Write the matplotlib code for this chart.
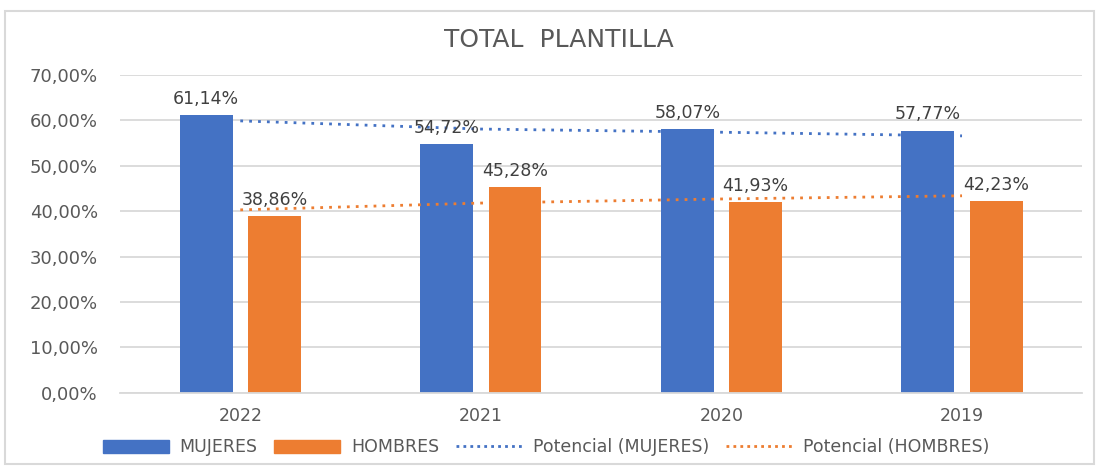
import numpy as np
import matplotlib.pyplot as plt
from matplotlib.patches import Rectangle, Patch
from matplotlib.lines import Line2D
from matplotlib.ticker import FuncFormatter, MultipleLocator

# -----------------------
# Datos
# -----------------------
anios = ['2022', '2021', '2020', '2019']
mujeres = [61.14, 54.72, 58.07, 57.77]
hombres = [38.86, 45.28, 41.93, 42.23]
# líneas de tendencia (potencial)
tend_mujeres = [59.9, 58.1, 57.4, 56.6]
tend_hombres = [40.3, 41.8, 42.7, 43.4]

azul = '#4472C4'
naranja = '#ED7D31'
gris = '#595959'

fig = plt.figure(figsize=(10.96, 4.66), dpi=100)
ax = fig.add_axes([0.1095, 0.157, 0.878, 0.682])

x = np.arange(len(anios))
ancho = 0.22
off = 0.142

ax.bar(x - off, mujeres, ancho, color=azul, zorder=2)
ax.bar(x + off, hombres, ancho, color=naranja, zorder=2)
ax.plot(x, tend_mujeres, color=azul, linestyle=(0, (1, 2.2)), linewidth=2, zorder=3)
ax.plot(x, tend_hombres, color=naranja, linestyle=(0, (1, 2.2)), linewidth=2, zorder=3)

def fmt(v):
    return f'{v:.2f}'.replace('.', ',') + '%'

for i in range(len(anios)):
    ax.text(x[i] - off, mujeres[i] + 1.6, fmt(mujeres[i]), ha='center', va='bottom',
            fontsize=12.5, color='#404040', zorder=4)
    ax.text(x[i] + off, hombres[i] + 1.6, fmt(hombres[i]), ha='center', va='bottom',
            fontsize=12.5, color='#404040', zorder=4)

ax.set_xlim(-0.5, 3.5)
ax.set_ylim(0, 70)
ax.yaxis.set_major_locator(MultipleLocator(10))
ax.yaxis.set_major_formatter(FuncFormatter(lambda v, p: fmt(v)))
ax.set_xticks(x)
ax.set_xticklabels(anios)
ax.tick_params(axis='x', length=0, labelsize=12.5, labelcolor=gris, pad=10)
ax.tick_params(axis='y', length=0, labelsize=13, labelcolor=gris, pad=16)
ax.grid(axis='y', color='#D9D9D9', linewidth=1.3, zorder=0)
for s in ['top', 'right', 'left']:
    ax.spines[s].set_visible(False)
ax.spines['bottom'].set_color('#D9D9D9')
ax.spines['bottom'].set_linewidth(1.3)

fig.text(0.51, 0.915, 'TOTAL  PLANTILLA', ha='center', va='center', fontsize=18, color=gris)

handles = [Patch(color=azul), Patch(color=naranja),
           Line2D([], [], color=azul, linestyle=(0, (1, 1.5)), linewidth=2),
           Line2D([], [], color=naranja, linestyle=(0, (1, 1.5)), linewidth=2)]
etiquetas = ['MUJERES', 'HOMBRES', 'Potencial (MUJERES)', 'Potencial (HOMBRES)']
leg = fig.legend(handles, etiquetas, loc='center', bbox_to_anchor=(0.498, 0.04), ncol=4,
                 frameon=False, fontsize=12.5, handlelength=3.8, handleheight=0.8,
                 columnspacing=1.0, handletextpad=0.6)
for t in leg.get_texts():
    t.set_color(gris)

fig.patches.append(Rectangle((0.005, 0.005), 0.993, 0.972, transform=fig.transFigure,
                             fill=False, edgecolor='#D9D9D9', linewidth=1.5))

fig.savefig('out.png', dpi=100)
